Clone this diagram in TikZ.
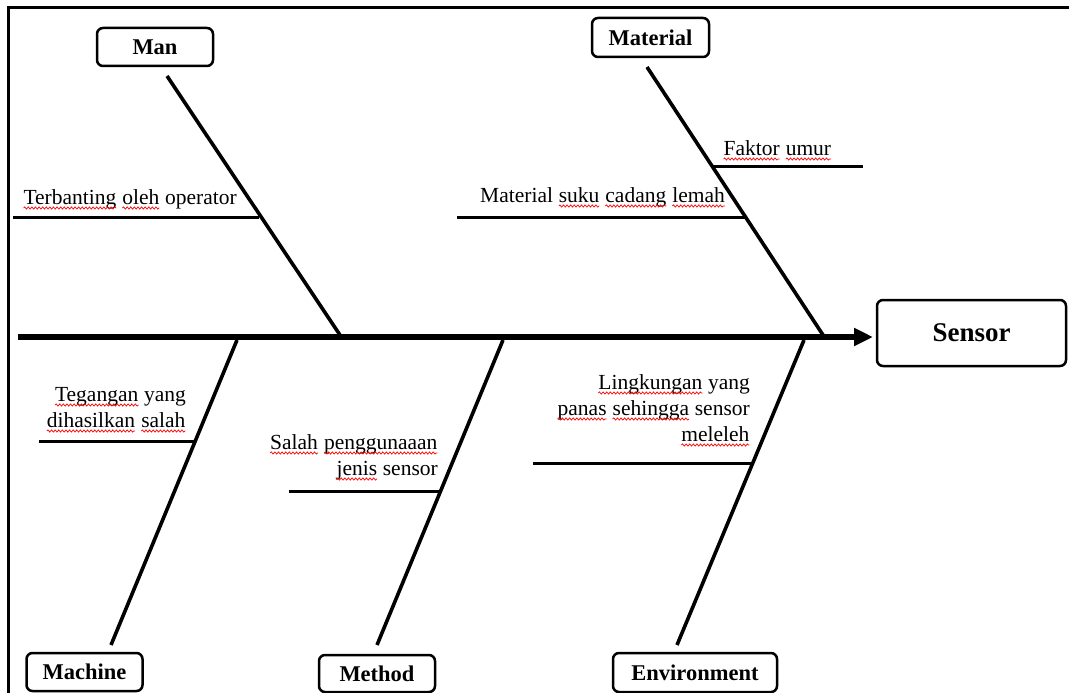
\documentclass[tikz,border=0pt]{standalone}
\usepackage{fontspec}
\setmainfont{Liberation Serif}
\usetikzlibrary{arrows.meta,decorations.pathmorphing}
\newcommand\sq[1]{\tikz[baseline=(w.base)]{\node[inner sep=0pt, outer sep=0pt] (w) {#1};
  \draw[red, line width=0.7pt, decorate, decoration={snake, amplitude=1.1pt, segment length=3.6pt}]
    ([yshift=-4pt]w.base west) -- ([yshift=-4pt]w.base east);}}
\tikzset{
  lbl/.style={font=\fontsize{21.5}{26}\selectfont, inner sep=0pt},
  boxt/.style={draw, line width=2.5pt, rounded corners=6pt, inner sep=0pt,
    font=\bfseries\fontsize{22.5}{27}\selectfont},
  bone/.style={line width=3.6pt},
  sub/.style={line width=3pt},
  spine/.style={line width=5.5pt, -{Triangle[length=19pt,width=17pt]}},
  frame/.style={line width=3pt}
}
\begin{document}
\begin{tikzpicture}[x=1pt,y=-1pt]
\useasboundingbox (0,0) rectangle (1069,693);
% frame
\coordinate (fA) at (8,694);
\coordinate (fB) at (8,8);
\coordinate (fC) at (1070,8);
\draw[frame] (fA) -- (fB) -- (fC);
% boxes
\node[boxt, minimum width=116pt, minimum height=38pt] (man) at (155,47) {Man};
\node[boxt, minimum width=117pt, minimum height=39pt] (material) at (650.5,37.5) {Material};
\node[boxt, minimum width=189pt, minimum height=66pt, font=\bfseries\fontsize{27}{32}\selectfont] (sensor) at (971.5,333) {Sensor};
\node[boxt, minimum width=116pt, minimum height=38pt] (machine) at (84.5,672) {Machine};
\node[boxt, minimum width=116pt, minimum height=37pt] (method) at (377,673.5) {Method};
\node[boxt, minimum width=164pt, minimum height=39pt] (environment) at (695,672.5) {Environment};
% spine
\coordinate (spS) at (18,337);
\coordinate (spE) at (873,337);
\draw[spine] (spS) -- (spE);
% bones
\coordinate (manT) at (167,76);
\coordinate (manB) at (340,335);
\draw[bone] (manT) -- (manB);
\coordinate (matT) at (647,67);
\coordinate (matB) at (823,335);
\draw[bone] (matT) -- (matB);
\coordinate (macT) at (237,340);
\coordinate (macB) at (111,645);
\draw[bone] (macT) -- (macB);
\coordinate (metT) at (503,340);
\coordinate (metB) at (377,645);
\draw[bone] (metT) -- (metB);
\coordinate (envT) at (804,340);
\coordinate (envB) at (677,645);
\draw[bone] (envT) -- (envB);
% sub-causes
\coordinate (s1a) at (13,217);  \coordinate (s1b) at (259,217);
\draw[sub] (s1a) -- (s1b);
\coordinate (s2a) at (712,166); \coordinate (s2b) at (863,166);
\draw[sub] (s2a) -- (s2b);
\coordinate (s3a) at (457,217); \coordinate (s3b) at (746,217);
\draw[sub] (s3a) -- (s3b);
\coordinate (s4a) at (39,441);  \coordinate (s4b) at (196,441);
\draw[sub] (s4a) -- (s4b);
\coordinate (s5a) at (289,491); \coordinate (s5b) at (442,491);
\draw[sub] (s5a) -- (s5b);
\coordinate (s6a) at (533,463); \coordinate (s6b) at (752,463);
\draw[sub] (s6a) -- (s6b);
% texts
\node[lbl, anchor=base west] (t1) at (23,204) {\sq{Terbanting} \sq{oleh} operator};
\node[lbl, anchor=base west] (t2) at (723,155) {\sq{Faktor} \sq{umur}};
\node[lbl, anchor=base west] (t3) at (480,202) {Material \sq{suku} \sq{cadang} \sq{lemah}};
\node[lbl, anchor=base east] (t4a) at (186,401) {\sq{Tegangan} yang};
\node[lbl, anchor=base east] (t4b) at (186,427) {\sq{dihasilkan} \sq{salah}};
\node[lbl, anchor=base east] (t5a) at (438,449) {\sq{Salah} \sq{penggunaaan}};
\node[lbl, anchor=base east] (t5b) at (438,475) {\sq{jenis} sensor};
\node[lbl, anchor=base east] (t6a) at (750,389) {\sq{Lingkungan} yang};
\node[lbl, anchor=base east] (t6b) at (750,415) {\sq{panas} \sq{sehingga} sensor};
\node[lbl, anchor=base east] (t6c) at (750,441) {\sq{meleleh}};
\end{tikzpicture}
\end{document}
